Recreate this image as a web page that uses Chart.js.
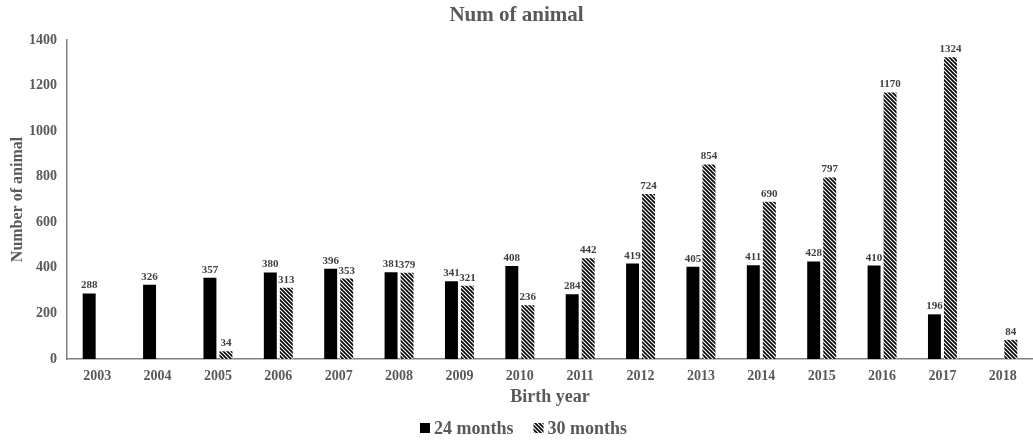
<!DOCTYPE html>
<html>
<head>
<meta charset="utf-8">
<script src="https://cdn.jsdelivr.net/npm/chart.js@4.4.1/dist/chart.umd.min.js"></script>
<style>
  html, body { margin: 0; padding: 0; background: #fff; }
  #wrap { width: 1033px; height: 440px; }
</style>
</head>
<body>
<div id="wrap"><canvas id="c" width="1033" height="440"></canvas></div>
<script>
// Birth years on the x axis
const birthYears = ['2003','2004','2005','2006','2007','2008','2009','2010','2011','2012','2013','2014','2015','2016','2017','2018'];
// Animals counted at 24 months of age
const months24 = [288, 326, 357, 380, 396, 381, 341, 408, 284, 419, 405, 411, 428, 410, 196, null];
// Animals counted at 30 months of age
const months30 = [null, null, 34, 313, 353, 379, 321, 236, 442, 724, 854, 690, 797, 1170, 1324, 84];
// Y axis range
const yMin = 0, yMax = 1400, yStep = 200;

const serif = '"Liberation Serif", "Times New Roman", serif';
const textGray = '#595959';

// Diagonal hatch fill for the 30-month bars
function makeHatch() {
  const p = document.createElement('canvas');
  p.width = 4; p.height = 4;
  const g = p.getContext('2d');
  g.fillStyle = '#fff';
  g.fillRect(0, 0, 4, 4);
  g.strokeStyle = '#000';
  g.lineWidth = 1.6;
  g.beginPath();
  g.moveTo(-1, -1); g.lineTo(5, 5);
  g.moveTo(-1, 3); g.lineTo(1, 5);
  g.moveTo(3, -1); g.lineTo(5, 1);
  g.stroke();
  return g.createPattern(p, 'repeat');
}
const ctx = document.getElementById('c').getContext('2d');
const hatch = makeHatch();

// Value labels above each bar
const valueLabels = {
  id: 'valueLabels',
  afterDatasetsDraw(chart) {
    const c = chart.ctx;
    c.save();
    c.font = 'bold 11px ' + serif;
    c.fillStyle = '#404040';
    c.textAlign = 'center';
    c.textBaseline = 'alphabetic';
    chart.data.datasets.forEach((ds, i) => {
      chart.getDatasetMeta(i).data.forEach((bar, j) => {
        const v = ds.data[j];
        if (v === null || v === undefined) return;
        c.fillText(String(v), bar.x, bar.y - 5);
      });
    });
    c.restore();
  }
};

// Compact legend row under the axis title
const bottomLegend = {
  id: 'bottomLegend',
  afterDraw(chart) {
    const c = chart.ctx;
    const box = 10, gap = 4, itemGap = 20;
    const y = 428;
    c.save();
    c.font = 'bold 18px ' + serif;
    c.textBaseline = 'middle';
    c.textAlign = 'left';
    const items = chart.data.datasets.map(ds => ({ label: ds.label, fill: ds.backgroundColor }));
    const widths = items.map(it => box + gap + c.measureText(it.label).width);
    const total = widths.reduce((a, b) => a + b, 0) + itemGap * (items.length - 1);
    let x = chart.width / 2 - total / 2 + 7;
    items.forEach((it, k) => {
      c.fillStyle = it.fill;
      c.fillRect(x, y - box / 2, box, box);
      c.fillStyle = textGray;
      c.fillText(it.label, x + box + gap, y + 1);
      x += widths[k] + itemGap;
    });
    c.restore();
  }
};

new Chart(ctx, {
  type: 'bar',
  data: {
    labels: birthYears,
    datasets: [
      { label: '24 months', data: months24, backgroundColor: '#000', borderWidth: 0,
        categoryPercentage: 0.53, barPercentage: 0.81 },
      { label: '30 months', data: months30, backgroundColor: hatch, borderWidth: 0,
        categoryPercentage: 0.53, barPercentage: 0.81 }
    ]
  },
  options: {
    responsive: false,
    animation: false,
    layout: { padding: { left: 0, right: 0, top: 0, bottom: 30 } },
    plugins: {
      title: {
        display: true,
        text: 'Num of animal',
        color: textGray,
        font: { family: serif, size: 21, weight: 'bold' },
        padding: { top: 3, bottom: 11.8 }
      },
      legend: { display: false },
      tooltip: { enabled: false }
    },
    scales: {
      x: {
        grid: { display: false, drawTicks: false },
        border: { display: true, color: '#808080', width: 1.5 },
        ticks: { color: textGray, font: { family: serif, size: 14, weight: 'bold' }, padding: 9, maxRotation: 0 },
        title: { display: true, text: 'Birth year', color: textGray,
                 font: { family: serif, size: 18, weight: 'bold' }, padding: { top: 0, bottom: 2 } },
        afterFit(scale) { scale.height = 51; }
      },
      y: {
        min: yMin, max: yMax,
        grid: { display: false, drawTicks: false },
        border: { display: true, color: '#808080', width: 1.5 },
        ticks: { stepSize: yStep, color: textGray, font: { family: serif, size: 14, weight: 'bold' }, padding: 10,
                 callback: v => String(v) },
        title: { display: true, text: 'Number of animal', color: textGray,
                 font: { family: serif, size: 16, weight: 'bold', lineHeight: 2.25 }, padding: 0 },
        afterFit(scale) { scale.width = 67; }
      }
    }
  },
  plugins: [valueLabels, bottomLegend]
});
</script>
</body>
</html>
